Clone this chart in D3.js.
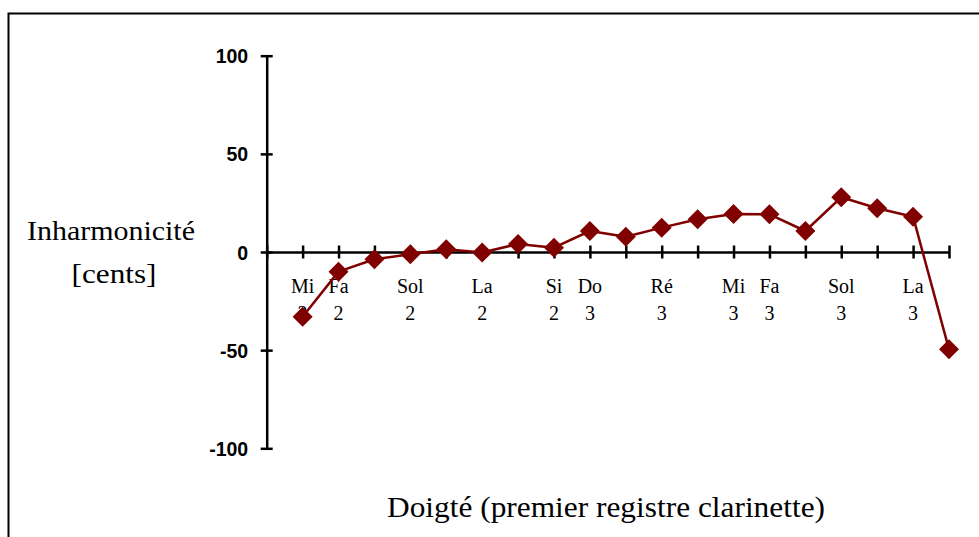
<!DOCTYPE html>
<html>
<head>
<meta charset="utf-8">
<script src="https://cdn.jsdelivr.net/npm/d3@7"></script>
<style>
  html, body { margin: 0; padding: 0; background: #fff; }
  svg { display: block; }
</style>
</head>
<body>
<svg id="chart" width="979" height="537"></svg>
<script>
// Fingerings of the clarinet's first register (chromatic, sharps left unlabelled)
const noteNames = ["Mi", "Fa", "", "Sol", "", "La", "", "Si", "Do", "", "Ré", "", "Mi", "Fa", "", "Sol", "", "La", ""];
const octaves   = ["2",  "2",  "", "2",   "", "2",  "", "2",  "3",  "", "3",  "", "3",  "3",  "", "3",   "", "3",  ""];
// Inharmonicity in cents for each fingering
const inharmonicity = [-33, -10, -3.7, -1.2, 1.4, -0.3, 4.1, 2.2, 10.7, 7.8, 12.4, 16.7, 19.4, 19.2, 10.7, 27.9, 22.3, 18.0, -49.6];
const yTicks = [-100, -50, 0, 50, 100];

const serif = "'Liberation Serif', 'Times New Roman', serif";
const sans = "'Liberation Sans', Arial, sans-serif";
const maroon = "#800000";

const svg = d3.select("#chart");

// outer frame
svg.append("rect")
  .attr("x", 8.5).attr("y", 13.5)
  .attr("width", 1000).attr("height", 600)
  .attr("fill", "none").attr("stroke", "#000").attr("stroke-width", 2);

const idx = d3.range(noteNames.length);
const x = d3.scaleLinear().domain([-1, noteNames.length - 1]).range([266.7, 949]);
const y = d3.scaleLinear().domain([-100, 100]).range([448.3, 55.7]);

// y axis with ticks crossing the line
const yAxis = svg.append("g")
  .attr("transform", `translate(${x(-1)},0)`)
  .call(d3.axisLeft(y).tickValues(yTicks).tickFormat(d => String(d))
    .tickSizeInner(6).tickSizeOuter(0).tickPadding(12.5));
yAxis.select(".domain").attr("stroke", "#000").attr("stroke-width", 2.5);
yAxis.selectAll(".tick line").attr("x1", 6).attr("stroke", "#000").attr("stroke-width", 2.5);
yAxis.selectAll(".tick text")
  .attr("font-family", sans).attr("font-weight", "bold").attr("font-size", 19.5)
  .attr("fill", "#000").attr("dy", "0.36em");

// x axis along zero
const xAxis = svg.append("g")
  .attr("transform", `translate(0,${y(0)})`)
  .call(d3.axisBottom(x).tickValues(d3.range(-1, noteNames.length)).tickFormat("").tickSizeInner(6.5).tickSizeOuter(0));
xAxis.select(".domain").attr("stroke", "#000").attr("stroke-width", 2.5);
xAxis.selectAll(".tick line").attr("y1", -6.5).attr("stroke", "#000").attr("stroke-width", 2.5);

// two-line category labels
const cat = svg.append("g")
  .attr("font-family", serif).attr("font-size", 20).attr("fill", "#000")
  .attr("text-anchor", "middle");
cat.selectAll("text.name").data(idx).join("text")
  .attr("class", "name")
  .attr("x", i => x(i)).attr("y", 293.3)
  .text(i => noteNames[i]);
cat.selectAll("text.oct").data(idx).join("text")
  .attr("class", "oct")
  .attr("x", i => x(i)).attr("y", 320)
  .text(i => octaves[i]);

// series line and diamond markers
svg.append("path")
  .datum(idx)
  .attr("fill", "none").attr("stroke", maroon).attr("stroke-width", 2.5)
  .attr("stroke-linejoin", "round")
  .attr("d", d3.line().x(i => x(i)).y(i => y(inharmonicity[i])));

svg.append("g").selectAll("path").data(idx).join("path")
  .attr("transform", i => `translate(${x(i)},${y(inharmonicity[i])}) rotate(45)`)
  .attr("d", d3.symbol(d3.symbolSquare, 200)())
  .attr("fill", maroon);

// axis titles
svg.append("text")
  .attr("x", 111).attr("y", 240)
  .attr("text-anchor", "middle")
  .attr("font-family", serif).attr("font-size", 27)
  .attr("textLength", 168).attr("lengthAdjust", "spacingAndGlyphs")
  .text("Inharmonicité");
svg.append("text")
  .attr("x", 114).attr("y", 282.7)
  .attr("text-anchor", "middle")
  .attr("font-family", serif).attr("font-size", 27)
  .attr("textLength", 85).attr("lengthAdjust", "spacingAndGlyphs")
  .text("[cents]");
svg.append("text")
  .attr("x", 606).attr("y", 517)
  .attr("text-anchor", "middle")
  .attr("font-family", serif).attr("font-size", 29)
  .attr("textLength", 438).attr("lengthAdjust", "spacingAndGlyphs")
  .text("Doigté (premier registre clarinette)");
</script>
</body>
</html>
